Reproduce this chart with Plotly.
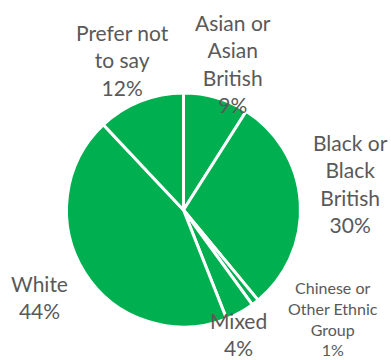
import plotly.graph_objects as go

labels = ["Asian or Asian British", "Black or Black British", "Chinese or Other Ethnic Group",
          "Mixed", "White", "Prefer not to say"]
values = [9, 30, 1, 4, 44, 12]
label_text = ["Asian or<br>Asian<br>British", "Black or<br>Black<br>British",
              "Chinese or<br>Other Ethnic<br>Group", "Mixed", "White", "Prefer not<br>to say"]

# label placement (paper coords) and font sizes
label_pos = [(233, 63), (350, 183), (333, 318), (238, 334), (39, 297), (122, 60)]
label_size = [21, 21, 16, 21, 21, 21]

W, H = 391, 360
fig = go.Figure(go.Pie(
    labels=labels, values=values, sort=False, direction="clockwise", rotation=0,
    marker=dict(colors=["#00B050"] * len(values), line=dict(color="white", width=3)),
    textinfo="none", hoverinfo="label+percent", showlegend=False,
    domain=dict(x=[66.5 / W, 300.5 / W], y=[1 - 327 / H, 1 - 93 / H]),
))

total = sum(values)
for txt, v, (px, py), fs in zip(label_text, values, label_pos, label_size):
    fig.add_annotation(
        x=px / W, y=1 - py / H, xref="paper", yref="paper",
        text=f"{txt}<br>{round(100 * v / total)}%", showarrow=False,
        font=dict(family="Lato", size=fs, color="#595959"),
        align="center", xanchor="center", yanchor="middle",
    )

fig.update_layout(width=W, height=H, margin=dict(l=0, r=0, t=0, b=0),
                  paper_bgcolor="white", plot_bgcolor="white")
fig.write_html("out.html")
